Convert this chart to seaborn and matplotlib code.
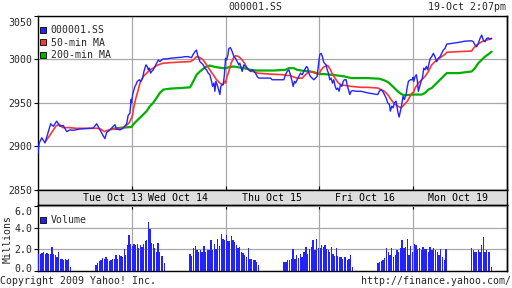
import numpy as np
import pandas as pd
import matplotlib
matplotlib.use("Agg")
import matplotlib.pyplot as plt
import matplotlib.transforms as mtransforms
import seaborn as sns
from matplotlib.lines import Line2D

# ---------------- data ----------------
# time axis: trading days (0=Tue Oct 13 ... 4=Mon Oct 19), fraction of day
day_labels = ["Tue Oct 13", "Wed Oct 14", "Thu Oct 15", "Fri Oct 16", "Mon Oct 19"]
day_label_pos = [0.80, 1.49, 2.49, 3.48, 4.48]

price_t = [0.000, 0.017, 0.043, 0.078, 0.113, 0.138, 0.166, 0.202, 0.237, 0.272, 0.309, 0.344,
           0.379, 0.450, 0.521, 0.591, 0.628, 0.663, 0.698, 0.716, 0.734, 0.769, 0.804, 0.822,
           0.840, 0.876, 0.911, 0.947, 0.964, 0.982, 0.995,
           1.000, 1.011, 1.025, 1.035, 1.046, 1.060, 1.082, 1.096, 1.106, 1.117, 1.131, 1.142,
           1.152, 1.167, 1.177, 1.188, 1.202, 1.213, 1.230, 1.248, 1.266, 1.284, 1.301, 1.319,
           1.337, 1.372, 1.408, 1.479, 1.532, 1.567, 1.603, 1.638, 1.656, 1.674, 1.691, 1.702,
           1.716, 1.727, 1.745, 1.762, 1.780, 1.798, 1.816, 1.833, 1.851, 1.862, 1.876, 1.887,
           1.897, 1.911, 1.926, 1.940, 1.950, 1.961, 1.975, 1.986,
           2.000, 2.011, 2.025, 2.035, 2.053, 2.071, 2.089, 2.106, 2.124, 2.142, 2.152, 2.167,
           2.177, 2.195, 2.213, 2.230, 2.248, 2.266, 2.284, 2.301, 2.319, 2.337, 2.355, 2.408,
           2.479, 2.496, 2.550, 2.621, 2.638, 2.656, 2.674, 2.691, 2.709, 2.720, 2.734, 2.745,
           2.762, 2.780, 2.798, 2.816, 2.833, 2.851, 2.862, 2.876, 2.887, 2.904, 2.922, 2.940,
           2.957, 2.975, 2.993,
           3.004, 3.018, 3.032, 3.043, 3.053, 3.071, 3.082, 3.096, 3.110, 3.124, 3.138, 3.152,
           3.167, 3.181, 3.195, 3.209, 3.223, 3.238, 3.252, 3.266, 3.284, 3.294, 3.309, 3.323,
           3.337, 3.355, 3.390, 3.443, 3.514, 3.585, 3.621, 3.638, 3.656, 3.674, 3.691, 3.709,
           3.727, 3.745, 3.755, 3.770, 3.784, 3.798, 3.816, 3.833, 3.848, 3.862, 3.876, 3.890,
           3.904, 3.922, 3.933, 3.947, 3.968, 3.989, 3.996,
           4.000, 4.004, 4.018, 4.032, 4.043, 4.053, 4.067, 4.082, 4.096, 4.110, 4.124, 4.138,
           4.152, 4.167, 4.181, 4.195, 4.213, 4.230, 4.248, 4.266, 4.284, 4.301, 4.319, 4.337,
           4.355, 4.408, 4.479, 4.550, 4.621, 4.638, 4.656, 4.674, 4.691, 4.709, 4.727, 4.745,
           4.762, 4.780, 4.798, 4.816, 4.833]
price = [2891.0, 2904.0, 2910.0, 2904.0, 2917.0, 2926.0, 2923.0, 2929.0, 2923.0, 2924.0, 2917.0, 2919.0,
         2918.5, 2920.0, 2920.5, 2921.0, 2926.0, 2919.0, 2912.0, 2909.0, 2916.0, 2919.0, 2923.0, 2925.0,
         2920.0, 2919.0, 2921.0, 2926.0, 2936.0, 2938.0, 2954.0,
         2950.0, 2959.5, 2965.2, 2968.9, 2970.8, 2974.6, 2976.5, 2974.6, 2976.5, 2978.4, 2986.0, 2989.8,
         2993.6, 2991.7, 2987.9, 2989.8, 2984.1, 2986.0, 2987.9, 2991.7, 2995.5, 2999.2, 2997.3, 2999.2,
         3000.4, 3000.4, 3001.1, 3001.9, 3002.3, 3003.0, 3003.0, 3001.9, 3005.7, 3008.7, 3010.6, 3004.9,
         3001.1, 2997.3, 2995.5, 2993.6, 2989.8, 2987.9, 2984.1, 2982.2, 2974.6, 2968.9, 2972.7, 2963.3,
         2974.6, 2970.8, 2965.2, 2959.5, 2968.9, 2970.8, 2970.8, 2980.3,
         3001.1, 2999.2, 3004.9, 3012.5, 3013.3, 3008.7, 3003.0, 3001.1, 2997.3, 2993.6, 2995.5, 2989.8,
         2986.0, 2993.6, 2991.7, 2989.8, 2987.9, 2986.0, 2987.9, 2986.0, 2984.1, 2980.3, 2978.4, 2978.4,
         2978.4, 2976.5, 2976.5, 2976.5, 2982.2, 2986.0, 2987.9, 2982.2, 2974.6, 2968.9, 2974.6, 2972.7,
         2976.5, 2980.3, 2984.1, 2982.2, 2986.0, 2989.8, 2991.7, 2989.8, 2984.1, 2980.3, 2978.4, 2976.5,
         2978.4, 2980.3, 2997.3,
         3005.7, 3006.8, 3003.0, 2997.3, 2995.5, 2993.6, 2987.9, 2984.1, 2976.5, 2978.4, 2972.7, 2976.5,
         2968.9, 2965.2, 2967.0, 2963.3, 2970.8, 2968.9, 2974.6, 2976.5, 2976.5, 2970.8, 2965.2, 2959.5,
         2963.3, 2964.0, 2963.3, 2963.3, 2961.4, 2960.2, 2959.5, 2963.3, 2965.2, 2963.3, 2959.5, 2955.7,
         2950.0, 2948.1, 2940.5, 2946.2, 2944.3, 2950.0, 2951.9, 2940.5, 2933.7, 2940.5, 2948.1, 2957.6,
         2953.8, 2959.5, 2967.0, 2974.6, 2976.5, 2976.5, 2979.2,
         2976.5, 2974.6, 2980.3, 2982.2, 2974.6, 2963.3, 2968.9, 2974.6, 2978.4, 2989.8, 2987.9, 2991.7,
         2987.9, 2995.5, 3001.1, 3003.0, 3006.8, 3003.0, 2997.3, 3001.1, 3003.0, 3006.8, 3010.6, 3012.5,
         3017.4, 3018.2, 3019.3, 3020.8, 3021.2, 3020.1, 3016.3, 3014.4, 3018.2, 3023.9, 3027.7, 3022.0,
         3020.1, 3023.9, 3024.6, 3023.1, 3023.9]

ma50_t = [0.089, 0.124, 0.160, 0.195, 0.230, 0.266, 0.337, 0.408, 0.514, 0.638, 0.674, 0.709,
          0.745, 0.780, 0.833, 0.869, 0.904, 0.940, 0.975, 1.000,
          1.011, 1.025, 1.046, 1.071, 1.089, 1.106, 1.124, 1.160, 1.195, 1.230, 1.266, 1.301,
          1.337, 1.479, 1.621, 1.656, 1.691, 1.727, 1.762, 1.798, 1.833, 1.869, 1.904, 1.940,
          1.968, 1.993,
          2.000, 2.011, 2.035, 2.060, 2.082, 2.106, 2.142, 2.177, 2.202, 2.230, 2.266, 2.319,
          2.337, 2.479, 2.621, 2.656, 2.691, 2.709, 2.762, 2.816, 2.833, 2.869, 2.887, 2.922,
          2.957, 2.993,
          3.000, 3.018, 3.053, 3.089, 3.117, 3.142, 3.177, 3.202, 3.230, 3.266, 3.337, 3.443,
          3.514, 3.621, 3.656, 3.691, 3.727, 3.762, 3.798, 3.833, 3.869, 3.904, 3.940, 3.975,
          3.993,
          4.000, 4.018, 4.053, 4.089, 4.124, 4.160, 4.195, 4.230, 4.266, 4.301, 4.337, 4.355,
          4.479, 4.621, 4.638, 4.674, 4.727, 4.780, 4.833]
ma50 = [2906.4, 2912.1, 2917.8, 2923.5, 2925.4, 2921.6, 2921.6, 2920.8, 2920.8, 2920.8, 2919.7, 2917.0,
        2918.6, 2919.7, 2919.7, 2920.5, 2921.6, 2923.5, 2927.3, 2933.0,
        2936.7, 2946.2, 2955.7, 2965.2, 2972.7, 2976.5, 2980.3, 2984.1, 2987.9, 2989.8, 2992.8, 2994.3,
        2995.5, 2996.6, 2997.3, 2999.2, 3003.0, 3001.9, 2999.2, 2993.6, 2987.9, 2982.2, 2976.5, 2972.7,
        2970.8, 2974.6,
        2972.7, 2978.4, 2986.0, 2995.5, 3001.1, 3004.2, 3003.0, 2999.2, 2995.5, 2989.8, 2986.7, 2985.2,
        2984.1, 2983.0, 2982.2, 2981.4, 2981.4, 2980.3, 2978.4, 2978.4, 2980.3, 2984.1, 2986.0, 2985.2,
        2984.1, 2983.0,
        2984.1, 2987.9, 2991.7, 2992.8, 2987.9, 2982.2, 2976.5, 2972.7, 2970.8, 2970.1, 2968.9, 2967.8,
        2967.8, 2967.0, 2965.2, 2963.3, 2959.5, 2953.8, 2948.9, 2946.2, 2944.3, 2948.1, 2952.6, 2959.5,
        2962.0,
        2961.4, 2967.0, 2972.7, 2976.5, 2980.3, 2986.0, 2993.6, 2997.3, 3000.4, 3003.0, 3005.7, 3008.0,
        3008.7, 3009.5, 3012.5, 3016.3, 3020.1, 3022.0, 3023.9]

ma200_t = [0.780, 0.833, 0.904, 1.000,
           1.018, 1.053, 1.089, 1.124, 1.160, 1.195, 1.230, 1.266, 1.301, 1.337, 1.408, 1.514,
           1.621, 1.638, 1.656, 1.674, 1.691, 1.727, 1.762, 1.798, 1.833, 1.869, 1.904, 1.975,
           2.000, 2.035, 2.089, 2.195, 2.266, 2.337, 2.514, 2.638, 2.674, 2.727, 2.762, 2.833,
           2.904, 2.940, 3.000,
           3.053, 3.124, 3.195, 3.266, 3.337, 3.514, 3.638, 3.691, 3.727, 3.762, 3.798, 3.833,
           3.869, 3.904, 4.000,
           4.089, 4.124, 4.160, 4.195, 4.230, 4.266, 4.301, 4.337, 4.355, 4.479, 4.621, 4.656,
           4.691, 4.727, 4.762, 4.798, 4.833]
ma200 = [2919.7, 2920.8, 2921.6, 2922.3,
         2925.4, 2929.2, 2933.0, 2936.7, 2940.5, 2946.2, 2950.0, 2955.7, 2961.4, 2965.2, 2966.3, 2967.0,
         2967.8, 2970.8, 2974.6, 2978.4, 2982.2, 2986.0, 2989.0, 2991.7, 2992.8, 2991.7, 2990.9, 2989.8,
         2989.8, 2990.9, 2991.7, 2989.8, 2987.9, 2987.1, 2987.1, 2987.9, 2989.8, 2989.8, 2987.9, 2986.7,
         2986.0, 2985.2, 2983.0,
         2983.0, 2982.2, 2981.4, 2980.3, 2978.4, 2978.4, 2977.7, 2975.8, 2973.9, 2970.8, 2967.0, 2963.3,
         2960.2, 2958.7, 2959.5,
         2959.5, 2961.4, 2965.2, 2967.0, 2970.8, 2974.6, 2978.4, 2982.2, 2984.1, 2984.1, 2986.0, 2989.8,
         2995.5, 2999.2, 3003.0, 3005.7, 3008.7]

# volume (millions) per trading session
vol_tue_am = [1.6, 1.55, 1.65, 1.75, 1.6, 1.65, 1.55, 1.6, 2.2, 1.55, 1.45, 1.3, 1.75, 1.15, 1.15, 1.0, 1.1, 1.0, 1.1, 0.4]
vol_tue_pm = [0.6, 0.75, 0.9, 1.0, 1.2, 1.1, 1.3, 1.15, 0.9, 1.0, 1.15, 1.1, 1.5, 1.15, 1.45, 1.4, 1.3, 2.0, 1.5, 2.4, 3.3, 2.5]
vol_wed_am = [2.3, 2.5, 2.4, 2.5, 2.1, 2.4, 2.2, 2.5, 2.75, 2.85, 4.5, 3.9, 2.6, 2.5, 2.1, 1.8, 2.6, 1.75, 1.4, 1.4, 0.7]
vol_wed_pm = [1.6, 1.4, 2.1, 2.3, 1.9, 1.8, 1.9, 1.8, 2.3, 1.8, 1.9, 1.9, 2.85, 1.9, 2.5, 2.0, 3.0, 2.3, 3.4, 3.0, 2.9]
vol_thu_am = [3.3, 2.75, 2.8, 3.2, 2.85, 2.7, 2.4, 2.1, 2.2, 1.75, 1.7, 1.45, 1.3, 2.1, 1.15, 1.15, 1.0, 1.0, 0.8, 0.6]
vol_thu_pm = [0.85, 0.8, 1.0, 1.0, 1.15, 2.0, 1.15, 1.45, 1.2, 1.6, 1.3, 1.75, 2.2, 1.6, 2.0, 2.2, 2.85, 1.9, 3.0, 2.1]
vol_fri_am = [2.1, 2.4, 2.2, 2.4, 2.0, 1.9, 1.75, 2.2, 1.6, 1.4, 2.1, 1.4, 1.3, 1.3, 1.15, 1.3, 1.25, 1.0, 1.15, 1.5, 0.4]
vol_fri_pm = [0.7, 0.85, 0.9, 1.0, 1.2, 2.1, 1.75, 1.45, 2.1, 1.3, 1.45, 1.9, 1.75, 2.1, 2.85, 2.1, 2.2, 3.0, 1.45, 2.3, 1.8]
vol_mon_am = [2.5, 2.4, 2.05, 2.1, 1.9, 2.2, 2.0, 2.05, 1.75, 2.2, 1.9, 2.1, 1.9, 1.75, 1.45, 2.05, 1.3, 1.0, 2.05]
vol_mon_pm = [2.1, 1.9, 1.75, 1.8, 1.9, 1.75, 2.4, 3.1, 1.75, 1.9, 1.8, 1.75, 0.4]

sessions = [
    (0, 0.0, 0.357, vol_tue_am), (0, 0.613, 1.0, vol_tue_pm),
    (1, 0.0, 0.357, vol_wed_am), (1, 0.613, 1.0, vol_wed_pm),
    (2, 0.0, 0.357, vol_thu_am), (2, 0.613, 1.0, vol_thu_pm),
    (3, 0.0, 0.357, vol_fri_am), (3, 0.613, 1.0, vol_fri_pm),
    (4, 0.0, 0.357, vol_mon_am), (4, 0.613, 0.840, vol_mon_pm),
]

price_ticks = [2850, 2900, 2950, 3000, 3050]
vol_ticks = [0.0, 2.0, 4.0, 6.0]

# ---------------- style ----------------
sns.set_theme(style="white")
plt.rcParams['font.family'] = ['DejaVu Sans Mono']
FS = 7.1
BLUE = '#2323ff'
RED = '#ff3535'
GREEN = '#00b000'
GRID = '#a8a8a8'

W, H = 512, 288
fig = plt.figure(figsize=(W / 100, H / 100), dpi=100)
fig.patch.set_facecolor('white')


def rect(x0, y0, x1, y1):
    return [x0 / W, 1 - y1 / H, (x1 - x0) / W, (y1 - y0) / H]


def shift_label(lbl, dy_px):
    off = mtransforms.ScaledTranslation(0, dy_px / 100, fig.dpi_scale_trans)
    lbl.set_transform(lbl.get_transform() + off)


ax = fig.add_axes(rect(37.7, 15.7, 507.3, 190))
band = fig.add_axes(rect(37.7, 190, 507.3, 205))
axv = fig.add_axes(rect(37.7, 205, 507.3, 271))

# ---- main price panel ----
df_p = pd.DataFrame({'t': price_t, 'v': price})
df_50 = pd.DataFrame({'t': ma50_t, 'v': ma50})
df_200 = pd.DataFrame({'t': ma200_t, 'v': ma200})
sns.lineplot(data=df_200, x='t', y='v', ax=ax, color=GREEN, lw=1.6, estimator=None, sort=False, zorder=3)
sns.lineplot(data=df_50, x='t', y='v', ax=ax, color=RED, lw=1.2, estimator=None, sort=False, zorder=4)
sns.lineplot(data=df_p, x='t', y='v', ax=ax, color=BLUE, lw=1.0, estimator=None, sort=False, zorder=5)

ax.set_xlim(0, 5)
ax.set_ylim(2850, 3050)
ax.set_xticks([1, 2, 3, 4])
ax.set_yticks(price_ticks)
ax.set_yticklabels([str(v) for v in price_ticks], fontsize=FS)
ax.set_xlabel('')
ax.set_ylabel('')
ax.grid(True, color=GRID, lw=0.9, zorder=0)
ax.tick_params(axis='x', bottom=True, direction='in', length=3, width=0.8, color='black', labelbottom=False)
ax.tick_params(axis='y', left=True, direction='out', length=3, width=0.8, color='black', pad=1)
sec = ax.secondary_yaxis('right')
sec.set_yticks(price_ticks)
sec.tick_params(direction='in', length=3, width=0.8, color='black', labelright=False)
for sp in list(ax.spines.values()) + list(sec.spines.values()):
    sp.set_color('black')
    sp.set_linewidth(1.0)
shift_label(ax.get_yticklabels()[-1], -6)

handles = [Line2D([], [], marker='s', ls='none', markersize=4.0, markerfacecolor=c,
                  markeredgecolor='black', markeredgewidth=0.6) for c in (BLUE, RED, GREEN)]
ax.legend(handles, ['000001.SS', '50-min MA', '200-min MA'], loc='upper left',
          bbox_to_anchor=(0.0053, 0.946), frameon=False,
          fontsize=FS, handlelength=0.6, handletextpad=0.45, labelspacing=0.26,
          borderaxespad=0.0, borderpad=0.0)

# ---- date band ----
band.set_facecolor('#dedede')
band.set_xlim(0, 5)
band.set_ylim(0, 1)
band.set_xticks([])
band.set_yticks([])
for sp in band.spines.values():
    sp.set_color('black')
    sp.set_linewidth(1.0)
for lab, pos in zip(day_labels, day_label_pos):
    band.text(pos, 0.45, lab, ha='center', va='center', fontsize=FS, color='black')

# ---- volume panel ----
for day, s0, s1, vals in sessions:
    n = len(vals)
    step = (s1 - s0) / n
    xs = [day + s0 + (i + 0.5) * step for i in range(n)]
    axv.bar(xs, vals, width=step * 0.78, color=BLUE, linewidth=0, zorder=3)
axv.set_xlim(0, 5)
axv.set_ylim(0, 6.1)
axv.set_xticks([1, 2, 3, 4])
axv.set_yticks(vol_ticks)
axv.set_yticklabels([f'{v:.1f}' for v in vol_ticks], fontsize=FS)
axv.grid(True, color=GRID, lw=0.9, zorder=0)
axv.tick_params(axis='x', bottom=False, top=True, direction='in', length=3, width=0.8, color='black',
                labelbottom=False)
axv.tick_params(axis='y', left=True, direction='out', length=3, width=0.8, color='black', pad=1)
secv = axv.secondary_yaxis('right')
secv.set_yticks(vol_ticks)
secv.tick_params(direction='in', length=3, width=0.8, color='black', labelright=False)
for sp in list(axv.spines.values()) + list(secv.spines.values()):
    sp.set_color('black')
    sp.set_linewidth(1.0)
vlabels = axv.get_yticklabels()
shift_label(vlabels[0], 2.5)
shift_label(vlabels[-1], -5)
vhandle = [Line2D([], [], marker='s', ls='none', markersize=4.0, markerfacecolor=BLUE,
                  markeredgecolor='black', markeredgewidth=0.6)]
axv.legend(vhandle, ['Volume'], loc='upper left', bbox_to_anchor=(0.0053, 0.847), frameon=False,
           fontsize=FS, handlelength=0.6, handletextpad=0.45, borderaxespad=0.0, borderpad=0.0)

# ---- texts ----
fig.text(255.7 / W, 1 - 7.5 / H, '000001.SS', ha='center', va='center', fontsize=FS)
fig.text(506 / W, 1 - 7.5 / H, '19-Oct 2:07pm', ha='right', va='center', fontsize=FS)
fig.text(7.5 / W, 1 - 239 / H, 'Millions', ha='center', va='center', rotation=90, fontsize=FS)
fig.text(0.5 / W, 1 - 280.5 / H, 'Copyright 2009 Yahoo! Inc.', ha='left', va='center', fontsize=FS)
fig.text(511.5 / W, 1 - 280.5 / H, 'http://finance.yahoo.com/', ha='right', va='center', fontsize=FS)

fig.savefig('out.png', dpi=100, facecolor='white')
